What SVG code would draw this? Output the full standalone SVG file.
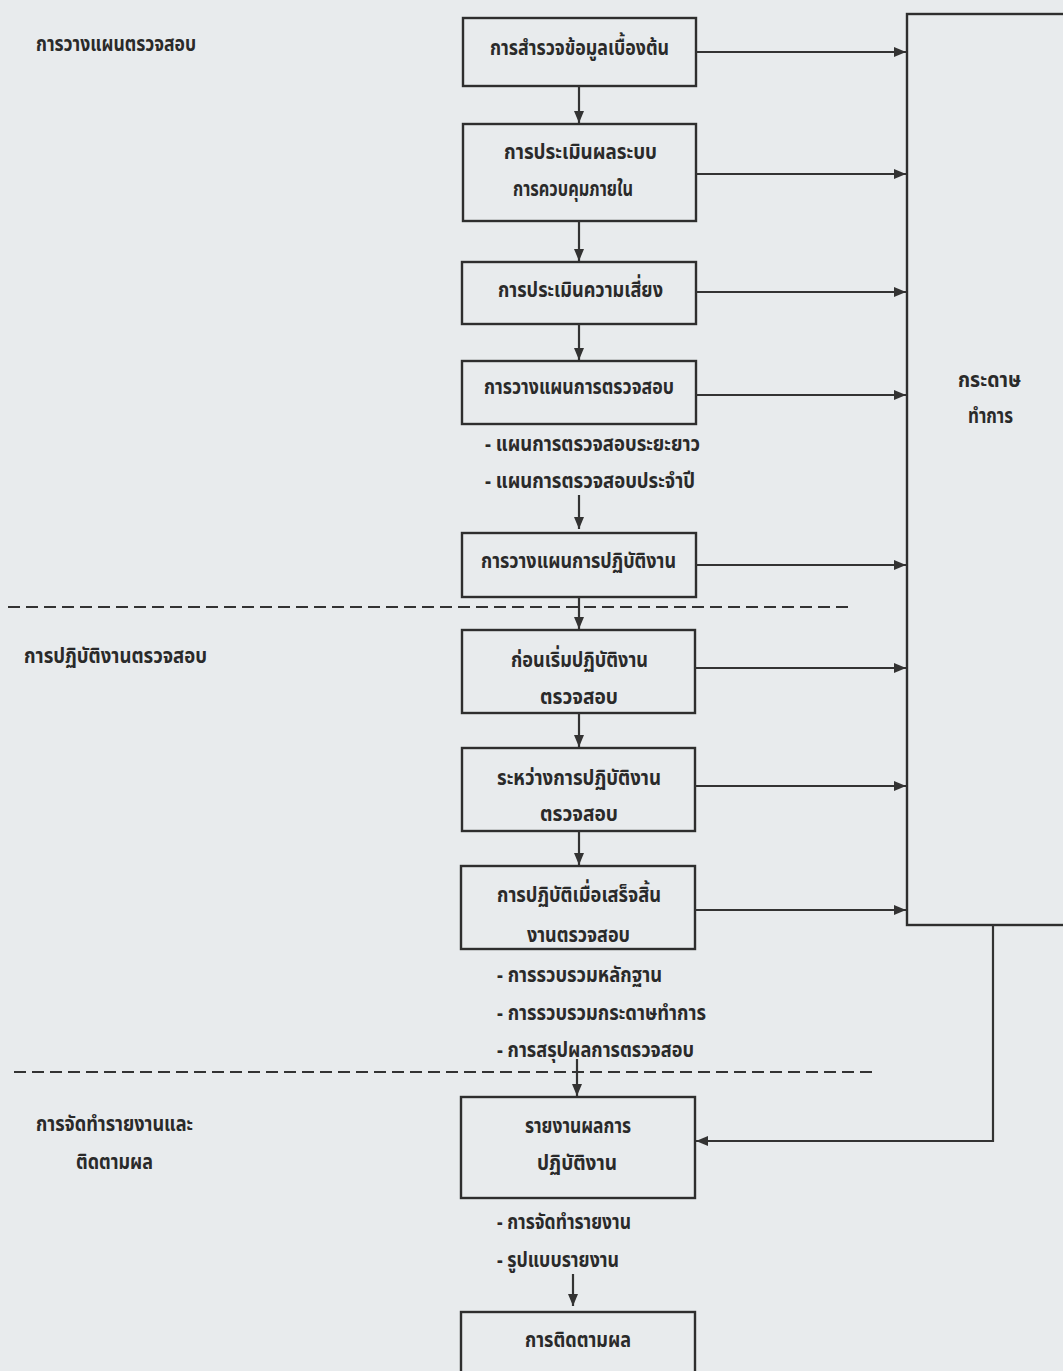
<svg xmlns="http://www.w3.org/2000/svg" width="1063" height="1371" viewBox="0 0 1063 1371">
<style>
.bx{fill:none;stroke:#2e2e2e;stroke-width:2.4}
.ln{fill:none;stroke:#333;stroke-width:2.2}
.ds{fill:none;stroke:#333;stroke-width:2;stroke-dasharray:12 6}
text{font-family:"Noto Sans Thai","Noto Sans","DejaVu Sans",sans-serif;font-size:22px;font-weight:bold;fill:#2a2a2a}
</style>
<defs>
<marker id="ah" viewBox="0 0 12 10" refX="12" refY="5" markerWidth="12" markerHeight="10" markerUnits="userSpaceOnUse" orient="auto">
<path d="M0,0 L12,5 L0,10 Z" fill="#333"/>
</marker>
</defs>
<rect width="1063" height="1371" fill="#e8ebed"/>

<g id="section-labels">
<text x="36" y="51" textLength="160" lengthAdjust="spacingAndGlyphs">การวางแผนตรวจสอบ</text>
<text x="24" y="663" textLength="183" lengthAdjust="spacingAndGlyphs">การปฏิบัติงานตรวจสอบ</text>
<text x="36" y="1131" textLength="157" lengthAdjust="spacingAndGlyphs">การจัดทำรายงานและ</text>
<text x="76" y="1169" textLength="77" lengthAdjust="spacingAndGlyphs">ติดตามผล</text>
</g>

<g id="dividers">
<line class="ds" x1="8" y1="607" x2="852" y2="607"/>
<line class="ds" x1="14" y1="1072" x2="878" y2="1072"/>
</g>

<g id="n1"><rect class="bx" x="463" y="18" width="233" height="68"/>
<text x="490" y="55" textLength="179" lengthAdjust="spacingAndGlyphs">การสำรวจข้อมูลเบื้องต้น</text></g>

<g id="n2"><rect class="bx" x="463" y="124" width="233" height="97"/>
<text x="504" y="159" textLength="153" lengthAdjust="spacingAndGlyphs">การประเมินผลระบบ</text>
<text x="513" y="196" textLength="120" lengthAdjust="spacingAndGlyphs">การควบคุมภายใน</text></g>

<g id="n3"><rect class="bx" x="462" y="262" width="234" height="62"/>
<text x="498" y="297" textLength="165" lengthAdjust="spacingAndGlyphs">การประเมินความเสี่ยง</text></g>

<g id="n4"><rect class="bx" x="462" y="361" width="234" height="63"/>
<text x="484" y="394" textLength="190" lengthAdjust="spacingAndGlyphs">การวางแผนการตรวจสอบ</text>
<text x="485" y="451" textLength="215" lengthAdjust="spacingAndGlyphs">- แผนการตรวจสอบระยะยาว</text>
<text x="485" y="488" textLength="210" lengthAdjust="spacingAndGlyphs">- แผนการตรวจสอบประจำปี</text></g>

<g id="n5"><rect class="bx" x="462" y="533" width="234" height="64"/>
<text x="481" y="568" textLength="195" lengthAdjust="spacingAndGlyphs">การวางแผนการปฏิบัติงาน</text></g>

<g id="n6"><rect class="bx" x="462" y="630" width="233" height="83"/>
<text x="511" y="667" textLength="137" lengthAdjust="spacingAndGlyphs">ก่อนเริ่มปฏิบัติงาน</text>
<text x="540" y="704" textLength="78" lengthAdjust="spacingAndGlyphs">ตรวจสอบ</text></g>

<g id="n7"><rect class="bx" x="462" y="748" width="233" height="83"/>
<text x="497" y="785" textLength="164" lengthAdjust="spacingAndGlyphs">ระหว่างการปฏิบัติงาน</text>
<text x="540" y="821" textLength="78" lengthAdjust="spacingAndGlyphs">ตรวจสอบ</text></g>

<g id="n8"><rect class="bx" x="461" y="866" width="234" height="83"/>
<text x="497" y="902" textLength="164" lengthAdjust="spacingAndGlyphs">การปฏิบัติเมื่อเสร็จสิ้น</text>
<text x="527" y="942" textLength="103" lengthAdjust="spacingAndGlyphs">งานตรวจสอบ</text>
<text x="497" y="982" textLength="165" lengthAdjust="spacingAndGlyphs">- การรวบรวมหลักฐาน</text>
<text x="497" y="1020" textLength="209" lengthAdjust="spacingAndGlyphs">- การรวบรวมกระดาษทำการ</text>
<text x="497" y="1057" textLength="197" lengthAdjust="spacingAndGlyphs">- การสรุปผลการตรวจสอบ</text></g>

<g id="n9"><rect class="bx" x="461" y="1097" width="234" height="101"/>
<text x="525" y="1133" textLength="106" lengthAdjust="spacingAndGlyphs">รายงานผลการ</text>
<text x="537" y="1170" textLength="80" lengthAdjust="spacingAndGlyphs">ปฏิบัติงาน</text>
<text x="497" y="1229" textLength="134" lengthAdjust="spacingAndGlyphs">- การจัดทำรายงาน</text>
<text x="497" y="1267" textLength="122" lengthAdjust="spacingAndGlyphs">- รูปแบบรายงาน</text></g>

<g id="n10"><rect class="bx" x="461" y="1312" width="234" height="70"/>
<text x="525" y="1347" textLength="106" lengthAdjust="spacingAndGlyphs">การติดตามผล</text></g>

<g id="workpapers"><rect class="bx" x="907" y="14" width="170" height="911"/>
<text x="958" y="387" textLength="63" lengthAdjust="spacingAndGlyphs">กระดาษ</text>
<text x="968" y="423" textLength="45" lengthAdjust="spacingAndGlyphs">ทำการ</text></g>

<g id="connectors">
<line class="ln" x1="579" y1="86" x2="579" y2="123" marker-end="url(#ah)"/>
<line class="ln" x1="579" y1="221" x2="579" y2="261" marker-end="url(#ah)"/>
<line class="ln" x1="579" y1="324" x2="579" y2="360" marker-end="url(#ah)"/>
<line class="ln" x1="579" y1="495" x2="579" y2="529" marker-end="url(#ah)"/>
<line class="ln" x1="579" y1="597" x2="579" y2="629" marker-end="url(#ah)"/>
<line class="ln" x1="579" y1="713" x2="579" y2="747" marker-end="url(#ah)"/>
<line class="ln" x1="579" y1="831" x2="579" y2="865" marker-end="url(#ah)"/>
<line class="ln" x1="577" y1="1059" x2="577" y2="1096" marker-end="url(#ah)"/>
<line class="ln" x1="573" y1="1274" x2="573" y2="1306" marker-end="url(#ah)"/>
<line class="ln" x1="696" y1="52" x2="906" y2="52" marker-end="url(#ah)"/>
<line class="ln" x1="696" y1="174" x2="906" y2="174" marker-end="url(#ah)"/>
<line class="ln" x1="696" y1="292" x2="906" y2="292" marker-end="url(#ah)"/>
<line class="ln" x1="696" y1="395" x2="906" y2="395" marker-end="url(#ah)"/>
<line class="ln" x1="696" y1="565" x2="906" y2="565" marker-end="url(#ah)"/>
<line class="ln" x1="695" y1="668" x2="906" y2="668" marker-end="url(#ah)"/>
<line class="ln" x1="695" y1="786" x2="906" y2="786" marker-end="url(#ah)"/>
<line class="ln" x1="695" y1="910" x2="906" y2="910" marker-end="url(#ah)"/>
<polyline class="ln" points="993,925 993,1141 696,1141" marker-end="url(#ah)"/>
</g>
</svg>
